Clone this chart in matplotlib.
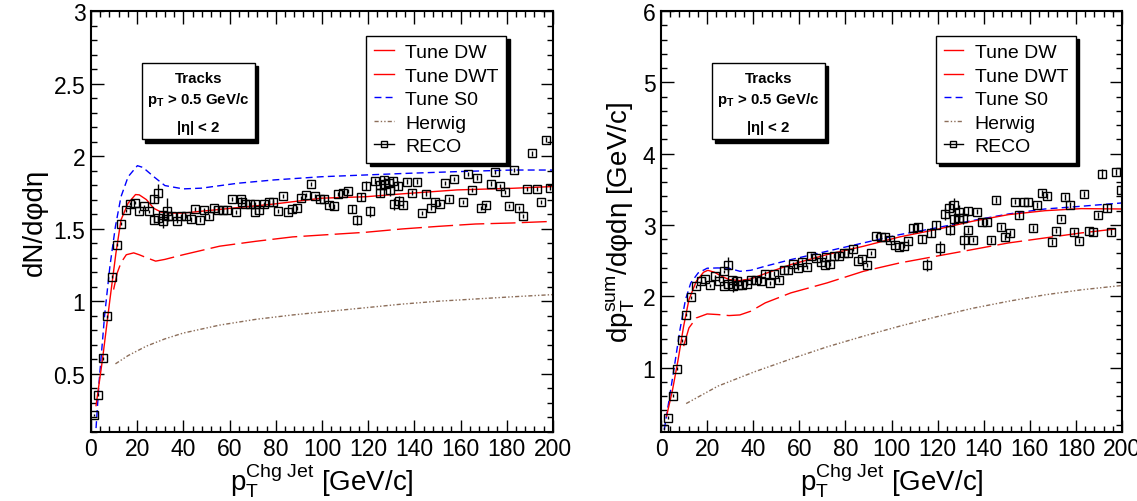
import matplotlib

matplotlib.use("Agg")
import matplotlib.pyplot as plt
from matplotlib.lines import Line2D
from matplotlib.patches import Rectangle
from matplotlib.ticker import FuncFormatter, MultipleLocator

plt.rcParams["font.family"] = ["Liberation Sans", "DejaVu Sans"]
plt.rcParams["mathtext.fontset"] = "custom"
plt.rcParams["mathtext.rm"] = "Liberation Sans"
plt.rcParams["mathtext.it"] = "Liberation Sans:italic"
plt.rcParams["mathtext.bf"] = "Liberation Sans:bold"

# ---------------- left panel: dN/dphideta ----------------
reco_n_x = [1.3, 3.2, 5.2, 7.1, 9.2, 11.1, 13.1, 15.2, 17.1, 19.1, 21.0, 23.1, 25.2,
            27.1, 27.2, 29.1, 29.1, 31.0, 31.3, 33.1, 33.2, 35.1, 37.2, 39.1, 41.1,
            43.2, 45.1, 47.2, 49.1, 51.1, 53.2, 55.1, 57.0, 59.0, 60.9, 63.0, 64.9,
            65.2, 66.9, 69.0, 71.0, 71.0, 72.9, 75.0, 76.9, 79.0, 81.0, 83.1, 85.1,
            87.0, 89.1, 91.1, 93.2, 95.1, 97.2, 99.1, 100.9, 103.0, 105.1, 107.0,
            109.0, 111.1, 113.1, 115.0, 117.1, 119.0, 121.0, 122.9, 125.0, 125.3,
            126.9, 127.2, 129.0, 129.3, 130.9, 131.2, 132.9, 133.2, 135.1, 137.0,
            139.2, 141.1, 143.2, 145.1, 147.2, 149.1, 151.1, 153.2, 155.1, 157.1,
            161.1, 163.1, 165.0, 167.1, 169.0, 171.0, 173.1, 175.0, 177.1, 179.1,
            181.2, 183.1, 185.1, 187.0, 188.9, 191.0, 193.0, 194.9, 197.0, 198.9]
reco_n_y = [0.215, 0.354, 0.607, 0.897, 1.169, 1.390, 1.534, 1.626, 1.671, 1.678, 1.619,
            1.653, 1.619, 1.705, 1.557, 1.749, 1.573, 1.591, 1.555, 1.619, 1.584, 1.584,
            1.555, 1.584, 1.589, 1.564, 1.635, 1.562, 1.626, 1.584, 1.639, 1.626, 1.630,
            1.626, 1.705, 1.616, 1.703, 1.687, 1.671, 1.667, 1.616, 1.669, 1.630, 1.667,
            1.683, 1.685, 1.623, 1.726, 1.616, 1.635, 1.642, 1.712, 1.733, 1.806, 1.724,
            1.705, 1.703, 1.664, 1.653, 1.740, 1.749, 1.760, 1.635, 1.557, 1.719, 1.795,
            1.619, 1.829, 1.801, 1.749, 1.836, 1.808, 1.817, 1.767, 1.829, 1.671, 1.795,
            1.692, 1.660, 1.824, 1.749, 1.824, 1.607, 1.742, 1.642, 1.687, 1.671, 1.815,
            1.701, 1.840, 1.683, 1.877, 1.767, 1.852, 1.644, 1.662, 1.811, 1.890, 1.795,
            1.753, 1.655, 1.904, 1.642, 1.589, 1.772, 2.018, 1.772, 1.685, 2.114, 1.783]
reco_n_err = [0.01] * 13 + [0.03, 0.02, 0.06, 0.02, 0.02, 0.05, 0.09, 0.03] + [0.015] * 41 + \
             [0.03, 0.035, 0.03, 0.03, 0.04, 0.02, 0.03, 0.03, 0.03, 0.04, 0.03, 0.04, 0.03,
              0.04, 0.03, 0.03] + [0.015] * 32

dw_n_x = [9.8, 11.4, 13.0, 15.3, 18.5, 20.9, 24.0, 28.0, 32.0, 39.9, 55.7, 71.5, 87.3,
          103.0, 119.0, 134.8, 150.6, 166.5, 182.3, 199.7]
dw_n_y = [1.08, 1.196, 1.265, 1.32, 1.333, 1.32, 1.30, 1.276, 1.288, 1.32, 1.379, 1.413,
          1.443, 1.459, 1.475, 1.498, 1.516, 1.532, 1.539, 1.55]

dwt_n_x = [2.2, 5.0, 8.2, 10.8, 13.0, 16.1, 19.3, 20.9, 24.0, 27.2, 30.4, 35.1, 39.9,
           47.8, 60.4, 79.4, 100.0, 119.0, 134.8, 158.5, 182.3, 199.7]
dwt_n_y = [0.28, 0.60, 1.01, 1.33, 1.56, 1.676, 1.735, 1.733, 1.70, 1.64, 1.614, 1.607,
           1.607, 1.62, 1.64, 1.67, 1.71, 1.72, 1.74, 1.767, 1.778, 1.79]

s0_n_x = [2.2, 3.5, 5.9, 8.2, 10.6, 13.0, 16.1, 20.1, 22.5, 27.2, 32.0, 39.9, 47.8, 63.6,
          79.4, 100.0, 119.0, 134.8, 158.5, 182.3, 199.7]
s0_n_y = [0.125, 0.44, 0.90, 1.24, 1.516, 1.72, 1.858, 1.934, 1.922, 1.858, 1.797, 1.774,
          1.779, 1.813, 1.836, 1.858, 1.87, 1.88, 1.893, 1.904, 1.904]

hw_n_x = [10.6, 16.1, 24.0, 32.0, 39.9, 55.7, 71.5, 87.3, 103.0, 119.0, 134.8, 150.6,
          166.5, 182.3, 199.7]
hw_n_y = [0.568, 0.625, 0.69, 0.74, 0.78, 0.835, 0.875, 0.905, 0.93, 0.955, 0.98, 1.0,
          1.015, 1.03, 1.045]

# ---------------- right panel: dpTsum/dphideta ----------------
reco_p_x = [1.3, 3.2, 5.0, 7.1, 9.1, 11.0, 13.1, 15.1, 17.2, 19.1, 21.1, 23.2, 25.1, 27.1,
            27.3, 29.0, 29.2, 31.0, 31.3, 33.1, 33.4, 35.1, 37.2, 39.2, 41.1, 43.2, 45.2,
            47.3, 49.1, 51.2, 53.3, 55.2, 57.2, 59.3, 61.2, 63.2, 65.1, 67.1, 69.2, 71.2,
            71.4, 73.2, 75.1, 77.2, 79.3, 81.3, 83.2, 85.3, 87.3, 89.2, 91.3, 93.3, 95.4,
            97.2, 99.3, 101.3, 103.4, 105.2, 107.3, 109.2, 111.3, 113.3, 115.2, 117.3,
            119.1, 121.2, 123.1, 125.1, 125.3, 127.0, 127.3, 129.1, 129.4, 131.1, 131.3,
            133.0, 133.2, 135.2, 137.3, 139.3, 141.4, 143.2, 145.3, 147.4, 149.3, 151.3,
            153.4, 155.4, 157.3, 159.3, 161.4, 163.3, 165.3, 167.4, 169.5, 171.2, 173.4,
            175.4, 177.5, 179.3, 181.4, 183.5, 185.5, 187.3, 189.4, 191.5, 193.4, 195.4,
            197.5, 199.4]
reco_p_y = [0.145, 0.294, 0.607, 0.981, 1.383, 1.743, 1.986, 2.14, 2.21, 2.243, 2.154,
            2.28, 2.22, 2.35, 2.14, 2.444, 2.178, 2.234, 2.14, 2.21, 2.164, 2.164, 2.178,
            2.234, 2.234, 2.22, 2.318, 2.187, 2.318, 2.234, 2.364, 2.364, 2.453, 2.393,
            2.486, 2.407, 2.57, 2.537, 2.486, 2.435, 2.55, 2.453, 2.57, 2.57, 2.607, 2.607,
            2.668, 2.491, 2.528, 2.435, 2.607, 2.85, 2.832, 2.832, 2.785, 2.724, 2.692,
            2.701, 2.776, 2.953, 2.972, 2.804, 2.439, 2.888, 3.0, 2.678, 3.154, 3.238,
            2.935, 3.28, 3.084, 3.182, 3.098, 3.098, 2.785, 3.192, 2.925, 2.794, 3.187,
            3.037, 3.037, 2.785, 3.35, 2.967, 2.832, 2.888, 3.327, 3.14, 3.322, 3.322,
            2.958, 3.28, 3.449, 3.402, 2.762, 2.921, 3.089, 3.388, 3.28, 2.902, 2.78,
            3.439, 2.916, 2.902, 3.14, 3.72, 3.238, 2.902, 3.738, 3.495]
reco_p_err = [0.02] * 15 + [0.1, 0.03, 0.03, 0.08, 0.08, 0.03] + [0.03] * 38 + \
             [0.06, 0.06, 0.06, 0.08, 0.06, 0.05, 0.1, 0.08, 0.1, 0.08, 0.1, 0.08, 0.1,
              0.06, 0.08, 0.12, 0.06] + [0.04] * 29 + [0.06, 0.06, 0.04, 0.04, 0.06]

dw_p_x = [9.8, 12.1, 15.3, 20.0, 24.7, 29.5, 34.2, 38.9, 45.2, 56.3, 72.0, 87.8, 103.5,
          119.3, 135.0, 150.8, 166.6, 182.3, 199.7]
dw_p_y = [1.30, 1.556, 1.696, 1.752, 1.743, 1.729, 1.738, 1.79, 1.907, 2.047, 2.187,
          2.35, 2.467, 2.561, 2.654, 2.748, 2.818, 2.888, 2.953]

dwt_p_x = [2.4, 5.0, 7.4, 9.8, 12.1, 15.3, 18.4, 20.3, 23.2, 26.3, 29.5, 34.2, 38.9,
           45.2, 56.3, 72.0, 87.8, 103.5, 119.3, 135.0, 150.8, 166.6, 182.3, 199.7]
dwt_p_y = [0.318, 0.69, 1.11, 1.58, 1.953, 2.21, 2.336, 2.364, 2.336, 2.28, 2.234, 2.22,
           2.243, 2.318, 2.444, 2.584, 2.701, 2.832, 2.935, 3.051, 3.145, 3.20, 3.229,
           3.224]

s0_p_x = [1.4, 3.5, 5.8, 8.2, 10.6, 12.9, 16.1, 20.0, 24.7, 29.5, 34.2, 38.9, 45.2, 56.3,
          72.0, 87.8, 103.5, 119.3, 135.0, 150.8, 166.6, 182.3, 199.7]
s0_p_y = [0.13, 0.55, 1.02, 1.53, 1.953, 2.187, 2.327, 2.393, 2.397, 2.393, 2.35, 2.364,
          2.421, 2.514, 2.631, 2.748, 2.864, 2.958, 3.061, 3.154, 3.224, 3.262, 3.308]

hw_p_x = [10.9, 24.7, 40.5, 56.3, 72.0, 87.8, 103.5, 119.3, 135.0, 150.8, 166.6, 182.3,
          199.7]
hw_p_y = [0.495, 0.74, 0.94, 1.12, 1.29, 1.44, 1.58, 1.71, 1.83, 1.93, 2.02, 2.09, 2.15]

legend_labels = ["Tune DW", "Tune DWT", "Tune S0", "Herwig", "RECO"]
box_lines = ["Tracks", r"$\mathbf{p_{T}}$ > 0.5 GeV/c", r"|$\mathbf{\eta}$| < 2"]

RED = "#ff0000"
BLUE = "#0000ff"
BROWN = "#8c6e5a"
DW_STYLE = dict(color=RED, lw=1.0, linestyle=(0, (18, 4.5)))
DWT_STYLE = dict(color=RED, lw=1.0, linestyle="-")
S0_STYLE = dict(color=BLUE, lw=1.0, linestyle=(0, (5, 3)))
HW_STYLE = dict(color=BROWN, lw=1.0, linestyle=(0, (3, 1.5, 1, 1.5, 1, 1.5)))
TICK_FONT = ["Liberation Sans Narrow", "Liberation Sans"]


def style_axes(ax, ylim, ymajor, yminor, ylabel):
    ax.set_xlim(0, 200)
    ax.set_ylim(*ylim)
    ax.xaxis.set_major_locator(MultipleLocator(20))
    ax.xaxis.set_minor_locator(MultipleLocator(4))
    ax.yaxis.set_major_locator(MultipleLocator(ymajor))
    ax.yaxis.set_minor_locator(MultipleLocator(yminor))
    ax.yaxis.set_major_formatter(FuncFormatter(lambda v, p: f"{v:g}"))
    ax.tick_params(which="both", direction="in", top=True, right=True, labelsize=16.5,
                   width=1.0, labelfontfamily=TICK_FONT)
    ax.tick_params(which="major", length=9, pad=4)
    ax.tick_params(which="minor", length=4.5)
    for sp in ax.spines.values():
        sp.set_linewidth(1.5)
    ax.set_xlabel(r"$\mathrm{p_{T}^{Chg\ Jet}}$ [GeV/c]", fontsize=20, labelpad=0)
    ax.set_ylabel(ylabel, fontsize=20, labelpad=4)


def add_text_box(ax):
    x0, y0, w, h = 0.111, 0.695, 0.244, 0.182
    ax.add_patch(Rectangle((x0 + 0.007, y0 - 0.008), w, h, transform=ax.transAxes,
                           facecolor="black", edgecolor="black", zorder=5))
    ax.add_patch(Rectangle((x0, y0), w, h, transform=ax.transAxes, facecolor="white",
                           edgecolor="black", lw=1.0, zorder=6))
    for txt, yy in zip(box_lines, [0.840, 0.791, 0.724]):
        ax.text(x0 + w / 2, yy, txt, transform=ax.transAxes, ha="center", va="center",
                fontsize=10.8, fontweight="bold", zorder=7)


def add_legend(ax):
    handles = [
        Line2D([], [], color=RED, lw=1.0),
        Line2D([], [], **DWT_STYLE),
        Line2D([], [], **S0_STYLE),
        Line2D([], [], **HW_STYLE),
        Line2D([], [], color="black", lw=1.0, marker="s", mfc="none", mec="black", ms=5),
    ]
    leg = ax.legend(handles, legend_labels, loc="upper left", bbox_to_anchor=(0.596, 0.941),
                    fontsize=14, frameon=True, fancybox=False, borderpad=0.4,
                    labelspacing=0.3, handlelength=1.0, handletextpad=0.6,
                    borderaxespad=0, markerscale=1.0,
                    shadow={"ox": 2.5, "oy": -2.5, "color": "black", "alpha": 1})
    leg.get_frame().set_edgecolor("black")
    leg.get_frame().set_linewidth(1.0)
    leg.set_zorder(8)


fig = plt.figure(figsize=(11.37, 5.02), dpi=100)
ax1 = fig.add_axes([0.080, 0.138, 0.4063, 0.838])
ax2 = fig.add_axes([0.5814, 0.138, 0.4054, 0.838])

for ax, reco, dw, dwt, s0, hw in [
    (ax1, (reco_n_x, reco_n_y, reco_n_err), (dw_n_x, dw_n_y), (dwt_n_x, dwt_n_y),
     (s0_n_x, s0_n_y), (hw_n_x, hw_n_y)),
    (ax2, (reco_p_x, reco_p_y, reco_p_err), (dw_p_x, dw_p_y), (dwt_p_x, dwt_p_y),
     (s0_p_x, s0_p_y), (hw_p_x, hw_p_y)),
]:
    ax.plot(*hw, **HW_STYLE)
    ax.plot(*dw, **DW_STYLE)
    ax.plot(*s0, **S0_STYLE)
    ax.plot(*dwt, **DWT_STYLE)
    ax.errorbar(reco[0], reco[1], yerr=reco[2], fmt="s", mfc="none", mec="black", ms=5.5,
                mew=1.0, ecolor="black", elinewidth=1.0, capsize=0, zorder=4)
    add_text_box(ax)
    add_legend(ax)

style_axes(ax1, (0.1, 3.0), 0.5, 0.1, "dN/dφdη")
style_axes(ax2, (0.1, 6.0), 1.0, 0.2, r"$\mathrm{dp_{T}^{sum}}$/dφdη [GeV/c]")

fig.savefig("out.png", dpi=100)
